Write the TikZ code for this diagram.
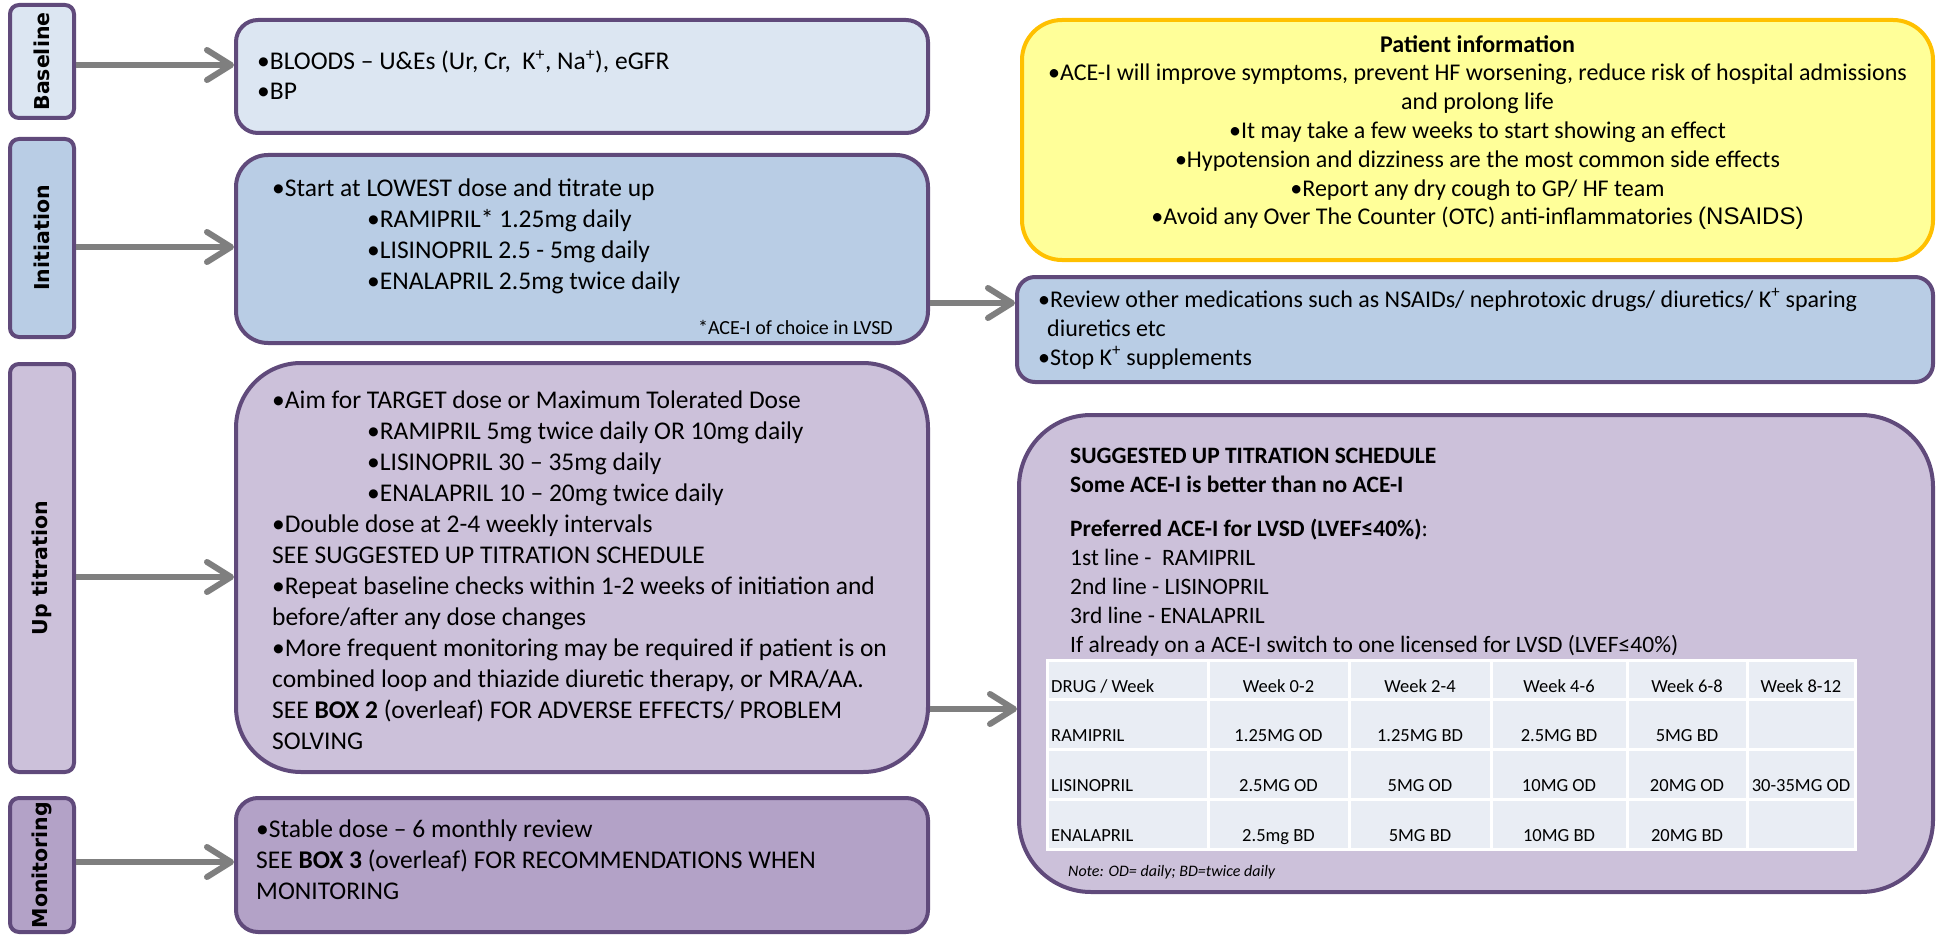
\documentclass[tikz,border=0pt]{standalone}
\usepackage{fontspec}
\setmainfont{Carlito}
\newfontfamily\labfont{DejaVu Sans}
\newfontfamily\arialfont{Liberation Sans}
\usetikzlibrary{arrows.meta}
\definecolor{pborder}{HTML}{604A7B}
\definecolor{fbase}{HTML}{DCE6F2}
\definecolor{finit}{HTML}{B9CDE5}
\definecolor{fup}{HTML}{CCC1DA}
\definecolor{fmon}{HTML}{B3A2C7}
\definecolor{fpat}{HTML}{FFFF99}
\definecolor{bpat}{HTML}{FFC000}
\definecolor{arrgrey}{HTML}{7F7F7F}
\definecolor{tabcell}{HTML}{E9EDF4}
\begin{document}
\begin{tikzpicture}[x=1pt,y=-1pt,
  mainbox/.style={draw=pborder, line width=4pt, inner sep=0pt},
  labbox/.style={draw=pborder, line width=4pt, inner sep=0pt, rotate=90, rounded corners=9pt,
     minimum height=64pt, font=\labfont\bfseries\fontsize{20.5}{22}\selectfont},
  txt/.style={anchor=base west, align=left, inner sep=0pt, font=\fontsize{25.5}{30}\selectfont},
  rtxt/.style={anchor=base west, align=left, inner sep=0pt, font=\fontsize{24}{29}\selectfont},
  cell/.style={anchor=base, inner sep=0pt, font=\fontsize{18.5}{20}\selectfont},
  arr/.style={draw=arrgrey, line width=6pt, -{Straight Barb[length=24pt,width=30pt,round]}}
]
\useasboundingbox (0,0) rectangle (1943,936);

% side labels
\node[labbox, fill=fbase, minimum width=113pt] (lb1) at (42,61.5) {Baseline};
\node[labbox, fill=finit, minimum width=198pt] (lb2) at (42,238) {Initiation};
\node[labbox, fill=fup, minimum width=408pt] (lb3) at (42,568) {Up titration};
\node[labbox, fill=fmon, minimum width=134pt] (lb4) at (42,865) {Monitoring};

% main boxes
\node[mainbox, fill=fbase, rounded corners=22pt, minimum width=692pt, minimum height=113pt] (bx1) at (582,76.5) {};
\node[mainbox, fill=finit, rounded corners=32pt, minimum width=692pt, minimum height=188pt] (bx2) at (582,249) {};
\node[mainbox, fill=fup, rounded corners=65pt, minimum width=692pt, minimum height=409pt] (bx3) at (582,567.5) {};
\node[mainbox, fill=fmon, rounded corners=22pt, minimum width=692pt, minimum height=134pt] (bx4) at (582,865) {};

\node[mainbox, draw=bpat, fill=fpat, rounded corners=40pt, minimum width=911pt, minimum height=240pt] (pi) at (1477.5,140) {};
\node[mainbox, fill=finit, rounded corners=18pt, minimum width=916pt, minimum height=105pt] (rv) at (1475,329.5) {};
\node[mainbox, fill=fup, rounded corners=72pt, minimum width=914pt, minimum height=477pt] (sc) at (1476,653.5) {};

% arrows
\draw[arr] (lb1.south |- 0,65) -- (bx1.west |- 0,65);
\draw[arr] (lb2.south |- 0,247) -- (bx2.west |- 0,247);
\draw[arr] (lb3.south |- 0,577) -- (bx3.west |- 0,577);
\draw[arr] (lb4.south |- 0,862) -- (bx4.west |- 0,862);
\draw[arr] (bx2.east |- 0,303) -- (rv.west |- 0,303);
\draw[arr] (bx3.east |- 0,709) -- (sc.west |- 0,709);

% texts (anchor base = baseline of the last line)
\node[txt] (t1) at (257,100) {•BLOODS – U\&Es (Ur, Cr,~ K\textsuperscript{+}, Na\textsuperscript{+}), eGFR\\•BP};

\node[txt, font=\fontsize{25.5}{30.7}\selectfont] (t2) at (272,289) {•Start at LOWEST dose and titrate up\\
\hspace*{95pt}•RAMIPRIL* 1.25mg daily\\
\hspace*{95pt}•LISINOPRIL 2.5 - 5mg daily\\
\hspace*{95pt}•ENALAPRIL 2.5mg twice daily};
\node[anchor=base east, inner sep=0pt, font=\fontsize{20}{24}\selectfont] (t2b) at (893,334) {*ACE-I of choice in LVSD};

\node[txt, font=\fontsize{25.5}{31}\selectfont] (t3) at (272,749) {•Aim for TARGET dose or Maximum Tolerated Dose\\
\hspace*{95pt}•RAMIPRIL 5mg twice daily OR 10mg daily\\
\hspace*{95pt}•LISINOPRIL 30 – 35mg daily\\
\hspace*{95pt}•ENALAPRIL 10 – 20mg twice daily\\
•Double dose at 2-4 weekly intervals\\
SEE SUGGESTED UP TITRATION SCHEDULE\\
•Repeat baseline checks within 1-2 weeks of initiation and\\
before/after any dose changes\\
•More frequent monitoring may be required if patient is on\\
combined loop and thiazide diuretic therapy, or MRA/AA.\\
SEE \textbf{BOX 2} (overleaf) FOR ADVERSE EFFECTS/ PROBLEM\\
SOLVING};

\node[txt, font=\fontsize{25.5}{31}\selectfont] (t4) at (256,899) {•Stable dose – 6 monthly review\\
SEE \textbf{BOX 3} (overleaf) FOR RECOMMENDATIONS WHEN\\
MONITORING};

\node[anchor=base, align=center, inner sep=0pt, font=\fontsize{24}{28.8}\selectfont] (t5) at (1477.5,225) {\textbf{Patient information}\\
•ACE-I will improve symptoms, prevent HF worsening, reduce risk of hospital admissions\\
and prolong life\\
•It may take a few weeks to start showing an effect\\
•Hypotension and dizziness are the most common side effects\\
•Report any dry cough to GP/ HF team\\
•Avoid any Over The Counter (OTC) anti-inflammatories {\arialfont (NSAIDS)}};

\node[rtxt] (t6) at (1038,365) {•Review other medications such as NSAIDs/ nephrotoxic drugs/ diuretics/ K\textsuperscript{+} sparing\\
\hspace*{9pt}diuretics etc\\
•Stop K\textsuperscript{+} supplements};

\node[rtxt, font=\fontsize{23.5}{29}\selectfont] (t7) at (1070,652) {\textbf{SUGGESTED UP TITRATION SCHEDULE}\\
\textbf{Some ACE-I is better than no ACE-I}\\[15pt]
\textbf{Preferred ACE-I for LVSD (LVEF≤40\%)}:\\
1st line -~ RAMIPRIL\\
2nd line - LISINOPRIL\\
3rd line - ENALAPRIL\\
If already on a ACE-I switch to one licensed for LVSD (LVEF≤40\%)};

% table
\fill[tabcell] (1047,660) rectangle (1855,849);
\draw[white, line width=3pt] (1047,660) rectangle (1855,849);
\foreach \xx in {1208,1349,1491,1627,1747} \draw[white, line width=3pt] (\xx,660) -- (\xx,849);
\foreach \yy in {699,749,799} \draw[white, line width=3pt] (1047,\yy) -- (1855,\yy);

\node[cell, anchor=base west] (h0) at (1051,692) {DRUG / Week};
\node[cell] (h1) at (1278.5,692) {Week 0-2};
\node[cell] (h2) at (1420,692) {Week 2-4};
\node[cell] (h3) at (1559,692) {Week 4-6};
\node[cell] (h4) at (1687,692) {Week 6-8};
\node[cell] (h5) at (1801,692) {Week 8-12};

\node[cell, anchor=base west] (r0) at (1051,741) {RAMIPRIL};
\node[cell] (r1) at (1278.5,741) {1.25MG OD};
\node[cell] (r2) at (1420,741) {1.25MG BD};
\node[cell] (r3) at (1559,741) {2.5MG BD};
\node[cell] (r4) at (1687,741) {5MG BD};

\node[cell, anchor=base west] (l0) at (1051,791) {LISINOPRIL};
\node[cell] (l1) at (1278.5,791) {2.5MG OD};
\node[cell] (l2) at (1420,791) {5MG OD};
\node[cell] (l3) at (1559,791) {10MG OD};
\node[cell] (l4) at (1687,791) {20MG OD};
\node[cell] (l5) at (1801,791) {30-35MG OD};

\node[cell, anchor=base west] (e0) at (1051,841) {ENALAPRIL};
\node[cell] (e1) at (1278.5,841) {2.5mg BD};
\node[cell] (e2) at (1420,841) {5MG BD};
\node[cell] (e3) at (1559,841) {10MG BD};
\node[cell] (e4) at (1687,841) {20MG BD};

\node[anchor=base west, inner sep=0pt, font=\itshape\fontsize{16}{18}\selectfont] (nt) at (1068,876) {Note: OD= daily; BD=twice daily};
\end{tikzpicture}
\end{document}
